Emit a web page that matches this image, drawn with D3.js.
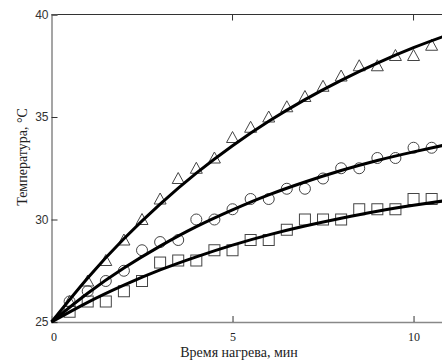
<!DOCTYPE html>
<html>
<head>
<meta charset="utf-8">
<script src="https://cdn.jsdelivr.net/npm/d3@7"></script>
<style>
  body { margin: 0; background: #fff; }
  svg { display: block; }
</style>
</head>
<body>
<div id="chart"></div>
<script>
var width = 442;
var height = 361;

// measured points, every 0.5 min
var times = [0.5, 1, 1.5, 2, 2.5, 3, 3.5, 4, 4.5, 5, 5.5, 6, 6.5, 7, 7.5, 8, 8.5, 9, 9.5, 10, 10.5];
var triangles = [26, 27, 28, 29, 30, 31, 32, 32.5, 33, 34, 34.5, 35, 35.5, 36, 36.5, 37, 37.5, 37.5, 38, 38, 38.5];
var circles = [26, 26.5, 27, 27.5, 28.5, 28.9, 29, 30, 30, 30.5, 31, 31, 31.5, 31.5, 32, 32.5, 32.5, 33, 33, 33.5, 33.5];
var squares = [25.5, 26, 26, 26.5, 27, 27.9, 28, 28, 28.5, 28.5, 29, 29, 29.5, 30, 30, 30, 30.5, 30.5, 30.5, 31, 31];

// fitted curves, read at whole minutes
var fitTimes = [0, 1, 2, 3, 4, 5, 6, 7, 8, 9, 10, 10.8];
var fitTop = [25, 27.15, 29.06, 30.75, 32.26, 33.6, 34.79, 35.85, 36.79, 37.63, 38.38, 38.91];
var fitMid = [25, 26.4, 27.63, 28.7, 29.65, 30.47, 31.2, 31.83, 32.39, 32.88, 33.3, 33.61];
var fitLow = [25, 25.96, 26.8, 27.54, 28.18, 28.75, 29.25, 29.68, 30.06, 30.4, 30.69, 30.9];

var xTicks = [0, 5, 10];
var yTicks = [25, 30, 35, 40];

var svg = d3.select("#chart").append("svg")
  .attr("width", width)
  .attr("height", height);

var xScale = d3.scaleLinear().domain([0, 10.8]).range([51.5, 442.5]);
var yScale = d3.scaleLinear().domain([25, 40]).range([322, 14.5]);

// top frame line
svg.append("line")
  .attr("x1", xScale(0)).attr("x2", width)
  .attr("y1", yScale(40)).attr("y2", yScale(40))
  .attr("stroke", "#333").attr("stroke-width", 1);
svg.selectAll("line.topTick")
  .data([5, 10]).enter().append("line")
  .attr("class", "topTick")
  .attr("x1", function(d){ return xScale(d); })
  .attr("x2", function(d){ return xScale(d); })
  .attr("y1", yScale(40)).attr("y2", yScale(40) + 6)
  .attr("stroke", "#333");

var xAxis = svg.append("g")
  .attr("transform", `translate(0, ${yScale(25)})`)
  .call(d3.axisBottom(xScale).tickValues(xTicks).tickSize(-6).tickPadding(10));
xAxis.select(".domain").attr("stroke", "#888").attr("stroke-width", 1.5);
xAxis.selectAll(".tick line").attr("stroke", "#333");
xAxis.selectAll(".tick text")
  .attr("font-family", "'Liberation Serif', 'Times New Roman', serif")
  .attr("font-size", 12)
  .attr("fill", "#222");
xAxis.selectAll(".tick").filter(function(d){ return d === 0; })
  .select("text").attr("dx", 2);
xAxis.selectAll(".tick").filter(function(d){ return d === 0; })
  .select("line").remove();

var yAxis = svg.append("g")
  .attr("transform", `translate(${xScale(0)}, 0)`)
  .call(d3.axisLeft(yScale).tickValues(yTicks).tickSize(-6).tickPadding(3));
yAxis.select(".domain").attr("stroke", "#888").attr("stroke-width", 1.5);
yAxis.selectAll(".tick line").attr("stroke", "#333");
yAxis.selectAll(".tick text")
  .attr("font-family", "'Liberation Sans', Arial, sans-serif")
  .attr("font-size", 12)
  .attr("fill", "#333");

// markers (hollow), drawn under the fit lines
var markColor = "#444";
function pts(vals) {
  return times.map(function(t, i){ return {t: t, v: vals[i]}; });
}

svg.append("g").selectAll("path")
  .data(pts(triangles)).enter().append("path")
  .attr("transform", function(d){ return `translate(${xScale(d.t)},${yScale(d.v)})`; })
  .attr("d", "M0,-6 L6,5 L-6,5 Z")
  .attr("fill", "none").attr("stroke", markColor).attr("stroke-width", 1);

svg.append("g").selectAll("circle")
  .data(pts(circles)).enter().append("circle")
  .attr("cx", function(d){ return xScale(d.t); })
  .attr("cy", function(d){ return yScale(d.v); })
  .attr("r", 5.5)
  .attr("fill", "none").attr("stroke", markColor).attr("stroke-width", 1);

svg.append("g").selectAll("rect")
  .data(pts(squares)).enter().append("rect")
  .attr("x", function(d){ return xScale(d.t) - 5.5; })
  .attr("y", function(d){ return yScale(d.v) - 5.5; })
  .attr("width", 11).attr("height", 11)
  .attr("fill", "none").attr("stroke", markColor).attr("stroke-width", 1);

var line = d3.line()
  .x(function(d){ return xScale(d.t); })
  .y(function(d){ return yScale(d.v); })
  .curve(d3.curveNatural);

[fitTop, fitMid, fitLow].forEach(function(fit){
  svg.append("path")
    .datum(fitTimes.map(function(t, i){ return {t: t, v: fit[i]}; }))
    .attr("d", line)
    .attr("fill", "none")
    .attr("stroke", "#000")
    .attr("stroke-width", 3);
});

svg.append("text")
  .attr("x", 239)
  .attr("y", 357)
  .attr("text-anchor", "middle")
  .attr("font-family", "'Liberation Serif', 'Times New Roman', serif")
  .attr("font-size", 14)
  .attr("fill", "#222")
  .text("Время нагрева, мин");

svg.append("text")
  .attr("transform", "rotate(-90)")
  .attr("x", -157)
  .attr("y", 27)
  .attr("text-anchor", "middle")
  .attr("font-family", "'Liberation Serif', 'Times New Roman', serif")
  .attr("font-size", 14)
  .attr("fill", "#222")
  .text("Температура, °С");
</script>
</body>
</html>
